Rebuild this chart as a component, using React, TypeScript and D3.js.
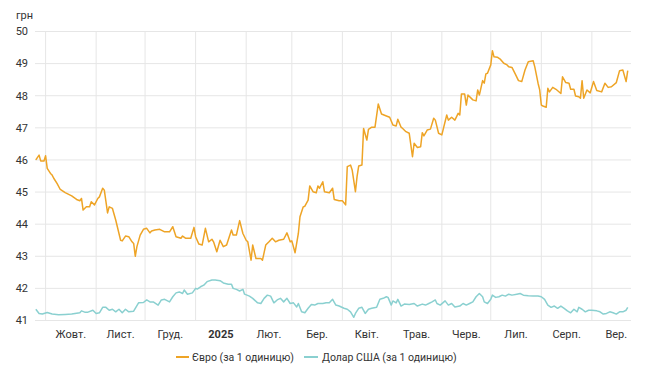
import React from "react";
import * as d3 from "d3";

const eurDates = [
  "2024-09-25","2024-09-27","2024-09-28","2024-09-30","2024-10-01","2024-10-02","2024-10-04","2024-10-05","2024-10-06","2024-10-08",
  "2024-10-10","2024-10-13","2024-10-17","2024-10-20","2024-10-22","2024-10-23","2024-10-24","2024-10-26","2024-10-28","2024-10-29",
  "2024-10-31","2024-11-02","2024-11-03","2024-11-05","2024-11-06","2024-11-08","2024-11-09","2024-11-11","2024-11-13","2024-11-14",
  "2024-11-16","2024-11-17","2024-11-19","2024-11-21","2024-11-23","2024-11-24","2024-11-25","2024-11-26","2024-11-28","2024-11-30",
  "2024-12-02","2024-12-04","2024-12-05","2024-12-07","2024-12-10","2024-12-13","2024-12-16","2024-12-18","2024-12-20","2024-12-23",
  "2024-12-24","2024-12-26","2024-12-29","2024-12-31","2025-01-01","2025-01-03","2025-01-05","2025-01-07","2025-01-09","2025-01-11",
  "2025-01-12","2025-01-14","2025-01-16","2025-01-18","2025-01-20","2025-01-23","2025-01-24","2025-01-26","2025-01-28","2025-01-30",
  "2025-02-01","2025-02-02","2025-02-04","2025-02-05","2025-02-07","2025-02-10","2025-02-11","2025-02-13","2025-02-15","2025-02-17",
  "2025-02-19","2025-02-21","2025-02-24","2025-02-26","2025-02-28","2025-03-01","2025-03-03","2025-03-05","2025-03-06","2025-03-08",
  "2025-03-09","2025-03-11","2025-03-12","2025-03-14","2025-03-16","2025-03-17","2025-03-18","2025-03-20","2025-03-21","2025-03-24",
  "2025-03-26","2025-03-27","2025-03-30","2025-04-01","2025-04-03","2025-04-04","2025-04-06","2025-04-07","2025-04-09","2025-04-10",
  "2025-04-11","2025-04-13","2025-04-14","2025-04-16","2025-04-17","2025-04-19","2025-04-21","2025-04-23","2025-04-25","2025-04-28",
  "2025-04-30","2025-05-02","2025-05-04","2025-05-05","2025-05-07","2025-05-08","2025-05-10","2025-05-12","2025-05-14","2025-05-15",
  "2025-05-17","2025-05-19","2025-05-20","2025-05-21","2025-05-23","2025-05-25","2025-05-27","2025-05-28","2025-05-30","2025-06-01",
  "2025-06-04","2025-06-05","2025-06-07","2025-06-09","2025-06-11","2025-06-12","2025-06-13","2025-06-15","2025-06-16","2025-06-17",
  "2025-06-20","2025-06-22","2025-06-23","2025-06-24","2025-06-26","2025-06-27","2025-06-28","2025-06-29","2025-07-01","2025-07-02",
  "2025-07-03","2025-07-05","2025-07-07","2025-07-09","2025-07-11","2025-07-12","2025-07-14","2025-07-16","2025-07-18","2025-07-20",
  "2025-07-22","2025-07-24","2025-07-27","2025-07-28","2025-07-30","2025-07-31","2025-08-01","2025-08-02","2025-08-04","2025-08-05",
  "2025-08-06","2025-08-08","2025-08-10","2025-08-13","2025-08-14","2025-08-16","2025-08-18","2025-08-19","2025-08-21","2025-08-22",
  "2025-08-24","2025-08-25","2025-08-26","2025-08-27","2025-08-29","2025-08-31","2025-09-02","2025-09-04","2025-09-07","2025-09-09",
  "2025-09-11","2025-09-13","2025-09-16","2025-09-18","2025-09-20","2025-09-22","2025-09-23"
];
const eurValues = [
  46.0,46.15,45.97,45.97,46.13,45.74,45.58,45.53,45.43,45.27,
  45.08,44.98,44.88,44.77,44.73,44.8,44.44,44.54,44.54,44.7,
  44.6,44.8,44.85,45.12,45.06,44.35,44.54,44.49,44.13,43.92,
  43.5,43.48,43.63,43.61,43.45,43.4,43.0,43.3,43.66,43.84,
  43.87,43.73,43.79,43.82,43.84,43.76,43.76,43.92,43.61,43.56,
  43.63,43.56,43.56,43.9,43.61,43.38,43.35,43.87,43.45,43.53,
  43.45,43.14,43.5,43.3,43.35,43.82,43.66,43.66,44.11,43.71,
  43.5,43.45,42.88,43.35,42.93,42.93,42.88,43.35,43.45,43.56,
  43.45,43.5,43.53,43.73,43.45,43.48,43.11,43.71,44.23,44.54,
  44.56,44.75,45.19,45.01,44.98,45.19,45.12,45.32,45.01,44.98,
  45.12,44.77,44.73,44.73,44.6,45.79,45.84,45.69,45.01,45.48,
  45.81,45.84,46.98,46.62,46.95,47.02,47.02,47.74,47.43,47.37,
  47.33,47.09,47.06,47.27,47.02,46.98,46.88,46.83,46.1,46.52,
  46.39,46.41,46.85,46.75,46.93,46.96,47.3,47.24,46.83,46.78,
  47.4,47.24,47.33,47.24,47.45,47.4,48.05,48.05,47.71,48.02,
  47.87,47.84,48.18,48.02,48.47,48.39,48.68,48.7,48.96,49.4,
  49.21,49.2,49.13,49.01,48.96,48.9,48.88,48.68,48.47,48.44,
  48.8,49.06,49.09,48.9,48.39,48.18,47.71,47.68,47.64,48.23,
  48.12,48.26,48.2,48.07,48.59,48.41,48.39,48.2,48.2,47.99,
  47.97,47.92,48.47,47.92,48.18,48.09,48.44,48.16,48.12,48.39,
  48.26,48.28,48.41,48.78,48.8,48.44,48.78
];

const usdDates = [
  "2024-09-25","2024-09-27","2024-09-29","2024-10-02","2024-10-05","2024-10-09","2024-10-13","2024-10-17","2024-10-22","2024-10-23",
  "2024-10-25","2024-10-27","2024-10-30","2024-11-01","2024-11-03","2024-11-05","2024-11-07","2024-11-09","2024-11-11","2024-11-13",
  "2024-11-15","2024-11-17","2024-11-19","2024-11-21","2024-11-24","2024-11-27","2024-11-30","2024-12-02","2024-12-04","2024-12-06",
  "2024-12-09","2024-12-11","2024-12-13","2024-12-16","2024-12-18","2024-12-20","2024-12-22","2024-12-24","2024-12-25","2024-12-27",
  "2024-12-30","2025-01-01","2025-01-02","2025-01-04","2025-01-06","2025-01-08","2025-01-11","2025-01-13","2025-01-16","2025-01-18",
  "2025-01-21","2025-01-23","2025-01-24","2025-01-26","2025-01-28","2025-01-30","2025-01-31","2025-02-03","2025-02-05","2025-02-08",
  "2025-02-10","2025-02-12","2025-02-14","2025-02-16","2025-02-18","2025-02-20","2025-02-22","2025-02-24","2025-02-26","2025-02-28",
  "2025-03-02","2025-03-04","2025-03-05","2025-03-07","2025-03-09","2025-03-11","2025-03-13","2025-03-15","2025-03-17","2025-03-20",
  "2025-03-22","2025-03-24","2025-03-26","2025-03-28","2025-03-30","2025-04-02","2025-04-04","2025-04-06","2025-04-08","2025-04-09",
  "2025-04-11","2025-04-13","2025-04-15","2025-04-17","2025-04-19","2025-04-22","2025-04-24","2025-04-26","2025-04-28","2025-04-29",
  "2025-05-01","2025-05-02","2025-05-04","2025-05-05","2025-05-07","2025-05-09","2025-05-12","2025-05-15","2025-05-17","2025-05-20",
  "2025-05-22","2025-05-24","2025-05-26","2025-05-28","2025-05-29","2025-05-31","2025-06-03","2025-06-05","2025-06-07","2025-06-09",
  "2025-06-12","2025-06-14","2025-06-16","2025-06-18","2025-06-20","2025-06-22","2025-06-24","2025-06-26","2025-06-27","2025-06-29",
  "2025-07-01","2025-07-02","2025-07-04","2025-07-06","2025-07-08","2025-07-10","2025-07-12","2025-07-14","2025-07-17","2025-07-19",
  "2025-07-21","2025-07-24","2025-07-27","2025-07-30","2025-08-01","2025-08-03","2025-08-05","2025-08-07","2025-08-09","2025-08-11",
  "2025-08-13","2025-08-15","2025-08-17","2025-08-19","2025-08-21","2025-08-23","2025-08-24","2025-08-26","2025-08-28","2025-08-30",
  "2025-09-01","2025-09-04","2025-09-06","2025-09-08","2025-09-10","2025-09-12","2025-09-14","2025-09-16","2025-09-18","2025-09-20",
  "2025-09-22","2025-09-23"
];
const usdValues = [
  41.35,41.22,41.2,41.25,41.2,41.18,41.19,41.2,41.24,41.3,
  41.26,41.26,41.32,41.22,41.24,41.41,41.41,41.32,41.35,41.27,
  41.35,41.24,41.35,41.27,41.29,41.55,41.56,41.64,41.58,41.58,
  41.48,41.64,41.66,41.58,41.74,41.86,41.89,41.84,41.95,41.82,
  41.86,42.0,41.98,42.05,42.1,42.21,42.26,42.26,42.24,42.17,
  42.13,42.13,42.0,41.97,41.92,41.97,41.82,41.76,41.69,41.55,
  41.53,41.69,41.79,41.76,41.55,41.64,41.69,41.58,41.69,41.53,
  41.55,41.42,41.53,41.27,41.24,41.38,41.5,41.48,41.53,41.53,
  41.55,41.55,41.66,41.48,41.45,41.38,41.35,41.27,41.1,41.22,
  41.38,41.41,41.22,41.35,41.38,41.41,41.66,41.69,41.74,41.72,
  41.48,41.61,41.55,41.66,41.45,41.51,41.5,41.53,41.45,41.51,
  41.48,41.53,41.58,41.64,41.53,41.48,41.61,41.48,41.53,41.42,
  41.45,41.53,41.48,41.53,41.58,41.74,41.84,41.74,41.58,41.53,
  41.66,41.79,41.72,41.74,41.79,41.76,41.82,41.79,41.82,41.84,
  41.79,41.77,41.76,41.76,41.74,41.66,41.48,41.41,41.45,41.38,
  41.45,41.38,41.3,41.24,41.35,41.27,41.41,41.35,41.27,41.32,
  41.32,41.3,41.27,41.2,41.22,41.27,41.24,41.2,41.27,41.27,
  41.32,41.41
];

const yTicks = [41, 42, 43, 44, 45, 46, 47, 48, 49, 50];
const monthLabels = ["Жовт.", "Лист.", "Груд.", "2025", "Лют.", "Бер.", "Квіт.", "Трав.", "Черв.", "Лип.", "Серп.", "Вер."];
const seriesNames = ["Євро (за 1 одиницю)", "Долар США (за 1 одиницю)"];
const unitLabel = "грн";

const W = 650;
const H = 383;
const FONT = "Roboto, 'Noto Sans', Arial, sans-serif";
const EUR_COLOR = "#eea426";
const USD_COLOR = "#8ad0d0";
const GRID = "#e6e6e6";
const TEXT = "#333333";

export default function App() {
  const parse = d3.timeParse("%Y-%m-%d");
  const x = d3
    .scaleTime()
    .domain([new Date(2024, 8, 24, 12), new Date(2025, 8, 25, 0)])
    .range([35, 631]);
  const y = d3.scaleLinear().domain([41, 50]).range([320.5, 31.5]);

  const eur = eurDates.map((d, i) => ({ date: parse(d) as Date, value: eurValues[i] }));
  const usd = usdDates.map((d, i) => ({ date: parse(d) as Date, value: usdValues[i] }));

  const line = d3
    .line<{ date: Date; value: number }>()
    .x((d) => x(d.date))
    .y((d) => y(d.value));

  const monthStarts = d3.timeMonth.range(new Date(2024, 9, 1), new Date(2025, 8, 2));
  const labelPos = monthStarts.map((m) => {
    const next = d3.timeMonth.offset(m, 1);
    return new Date((m.getTime() + next.getTime()) / 2);
  });

  return (
    <svg
      width={W}
      height={H}
      style={{ position: "absolute", left: 0, top: 0, background: "#fff" }}
      fontFamily={FONT}
    >
      <rect width={W} height={H} fill="#fff" />
      {yTicks.map((t) => (
        <line key={"h" + t} x1={35} x2={631} y1={y(t)} y2={y(t)} stroke={GRID} strokeWidth={1} />
      ))}
      {monthStarts.map((m, i) => (
        <line
          key={"v" + i}
          x1={x(m)}
          x2={x(m)}
          y1={y(50)}
          y2={y(41)}
          stroke={GRID}
          strokeWidth={1}
        />
      ))}
      {yTicks.map((t) => (
        <text key={"yl" + t} x={28} y={y(t)} dy="0.35em" textAnchor="end" fontSize={11} fill={TEXT}>
          {t}
        </text>
      ))}
      <text x={16} y={15} dy="0.35em" fontSize={11} fill={TEXT}>
        {unitLabel}
      </text>
      {labelPos.map((d, i) => (
        <text
          key={"xl" + i}
          x={x(d)}
          y={334}
          dy="0.35em"
          textAnchor="middle"
          fontSize={11}
          fill={TEXT}
          fontWeight={monthLabels[i] === "2025" ? 700 : 400}
        >
          {monthLabels[i]}
        </text>
      ))}
      <path d={line(usd) || ""} fill="none" stroke={USD_COLOR} strokeWidth={1.5} strokeLinejoin="round" />
      <path d={line(eur) || ""} fill="none" stroke={EUR_COLOR} strokeWidth={1.5} strokeLinejoin="round" />
      <g>
        <line x1={176} x2={189} y1={357} y2={357} stroke={EUR_COLOR} strokeWidth={2} />
        <text x={192} y={357} dy="0.35em" fontSize={10.5} fill={TEXT}>
          {seriesNames[0]}
        </text>
        <line x1={304} x2={318} y1={357} y2={357} stroke={USD_COLOR} strokeWidth={2} />
        <text x={322} y={357} dy="0.35em" fontSize={10.5} fill={TEXT}>
          {seriesNames[1]}
        </text>
      </g>
    </svg>
  );
}
